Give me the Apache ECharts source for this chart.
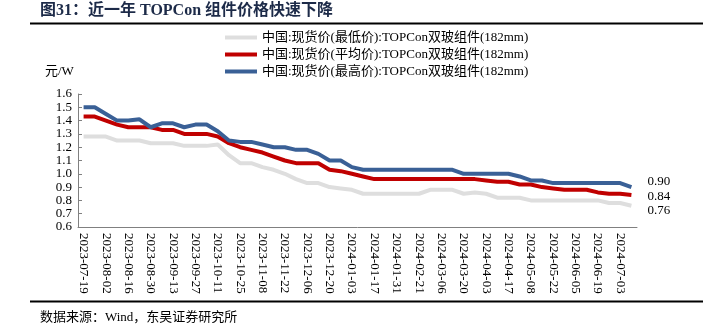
<!DOCTYPE html>
<html>
<head>
<meta charset="utf-8">
<script src="https://cdn.jsdelivr.net/npm/echarts@6/dist/echarts.min.js"></script>
<style>html,body{margin:0;padding:0;background:#fff}#c{width:703px;height:329px}</style>
</head>
<body>
<div id="c"></div>
<script>
const dates = ['2023-07-19','2023-07-26','2023-08-02','2023-08-09','2023-08-16','2023-08-23','2023-08-30','2023-09-06','2023-09-13','2023-09-20','2023-09-27','2023-10-04','2023-10-11','2023-10-18','2023-10-25','2023-11-01','2023-11-08','2023-11-15','2023-11-22','2023-11-29','2023-12-06','2023-12-13','2023-12-20','2023-12-27','2024-01-03','2024-01-10','2024-01-17','2024-01-24','2024-01-31','2024-02-07','2024-02-21','2024-02-28','2024-03-06','2024-03-13','2024-03-20','2024-03-27','2024-04-03','2024-04-10','2024-04-17','2024-04-24','2024-05-08','2024-05-15','2024-05-22','2024-05-29','2024-06-05','2024-06-12','2024-06-19','2024-06-26','2024-07-03','2024-07-10'];
const lowPrice = [1.28,1.28,1.28,1.25,1.25,1.25,1.23,1.23,1.23,1.21,1.21,1.21,1.22,1.14,1.08,1.08,1.05,1.03,1.00,0.96,0.93,0.93,0.90,0.89,0.88,0.85,0.85,0.85,0.85,0.85,0.85,0.88,0.88,0.88,0.85,0.86,0.85,0.82,0.82,0.82,0.80,0.80,0.80,0.80,0.80,0.80,0.80,0.78,0.78,0.76];
const avgPrice = [1.43,1.43,1.40,1.37,1.35,1.35,1.35,1.33,1.33,1.30,1.30,1.30,1.28,1.23,1.20,1.18,1.16,1.13,1.10,1.08,1.08,1.08,1.03,1.02,1.00,0.98,0.96,0.96,0.96,0.96,0.96,0.96,0.96,0.96,0.96,0.96,0.95,0.94,0.94,0.92,0.92,0.90,0.89,0.88,0.88,0.88,0.86,0.85,0.85,0.84];
const highPrice = [1.50,1.50,1.45,1.40,1.40,1.41,1.35,1.38,1.38,1.35,1.37,1.37,1.32,1.25,1.24,1.24,1.22,1.20,1.20,1.18,1.18,1.15,1.10,1.10,1.05,1.03,1.03,1.03,1.03,1.03,1.03,1.03,1.03,1.03,1.00,1.00,1.00,1.00,1.00,0.98,0.95,0.95,0.93,0.93,0.93,0.93,0.93,0.93,0.93,0.90];
const seriesNames = ['中国:现货价(最低价):TOPCon双玻组件(182mm)','中国:现货价(平均价):TOPCon双玻组件(182mm)','中国:现货价(最高价):TOPCon双玻组件(182mm)'];

const serif = "'Liberation Serif','Times New Roman','Noto Sans CJK SC',serif";
const chart = echarts.init(document.getElementById('c'));
function mk(name, data, color, dy) {
  return {
    name, type: 'line', data, symbol: 'none', showSymbol: false,
    lineStyle: { color, width: 4 }, itemStyle: { color },
    endLabel: { show: true, formatter: p => Number(p.value).toFixed(2), offset: [8, dy],
      color: '#000', fontFamily: serif, fontSize: 13 },
    animation: false
  };
}
chart.setOption({
  animation: false,
  grid: { left: 78, right: 66, top: 94, bottom: 102, containLabel: false },
  legend: {
    orient: 'vertical', left: 225, top: 31, padding: 0, icon: 'rect', itemWidth: 32, itemHeight: 4,
    itemGap: 4, itemTextGap: 5,
    textStyle: { fontFamily: serif, fontSize: 13, color: '#000', lineHeight: 13 },
    data: seriesNames
  },
  xAxis: {
    type: 'category', data: dates, boundaryGap: true,
    axisLine: { lineStyle: { color: '#808080' } },
    axisTick: { inside: true, length: 4, alignWithLabel: false, interval: 0, lineStyle: { color: '#808080' } },
    axisLabel: { rotate: -90, interval: 1, margin: 6, fontFamily: serif, fontSize: 13, color: '#000' },
    splitLine: { show: false }
  },
  yAxis: {
    type: 'value', min: 0.6, max: 1.6, interval: 0.1,
    axisLine: { show: true, lineStyle: { color: '#808080' } },
    axisTick: { show: true, inside: true, length: 4, lineStyle: { color: '#808080' } },
    axisLabel: { margin: 6, fontFamily: serif, fontSize: 13, color: '#000', showMinLabel: true, showMaxLabel: true, hideOverlap: false, formatter: v => v.toFixed(1) },
    splitLine: { show: false }
  },
  graphic: [
    { type: 'text', left: 40, top: 3, style: { text: '图31：近一年 TOPCon 组件价格快速下降', font: "bold 16px 'Liberation Serif','Noto Sans CJK SC',serif", fill: '#1c2a48' } },
    { type: 'line', shape: { x1: 30, y1: 23.5, x2: 703, y2: 23.5 }, style: { stroke: '#000', lineWidth: 2 } },
    { type: 'text', left: 45, top: 65, style: { text: '元/W', font: "13px 'Liberation Serif','Noto Sans CJK SC',serif", fill: '#000' } },
    { type: 'line', shape: { x1: 30, y1: 301.5, x2: 703, y2: 301.5 }, style: { stroke: '#000', lineWidth: 2 } },
    { type: 'text', left: 40, top: 311, style: { text: '数据来源：Wind，东吴证券研究所', font: "13px 'Liberation Serif','Noto Sans CJK SC',serif", fill: '#000' } }
  ],
  series: [
    mk(seriesNames[0], lowPrice, '#dedede', 5),
    mk(seriesNames[1], avgPrice, '#c00000', 1),
    mk(seriesNames[2], highPrice, '#3a6096', -6)
  ]
});
</script>
</body>
</html>
